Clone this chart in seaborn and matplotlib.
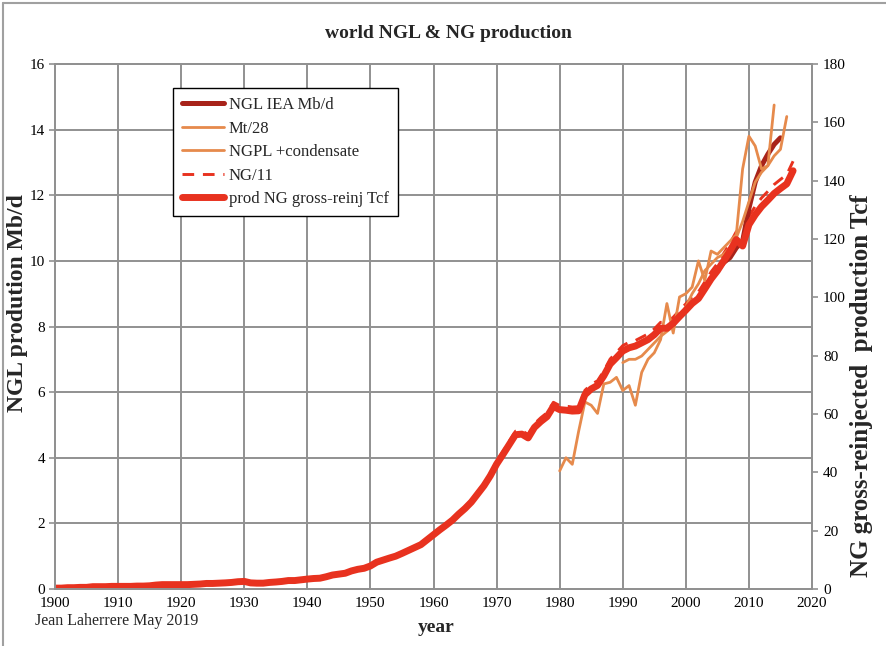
import numpy as np
import pandas as pd
import matplotlib
matplotlib.use("Agg")
import matplotlib.pyplot as plt
from matplotlib.lines import Line2D
import seaborn as sns

# ---------------- data ----------------
ng_years = list(range(1900, 2018))
# world natural gas production, gross minus reinjected (Tcf)
ng_tcf = [0.3, 0.3, 0.45, 0.45, 0.56, 0.56, 0.8, 0.8, 0.8, 0.9,
          0.9, 0.9, 0.9, 1.0, 1.0, 1.1, 1.35, 1.5, 1.5, 1.5,
          1.5, 1.5, 1.6, 1.7, 1.9, 1.9, 2.0, 2.1, 2.25, 2.5,
          2.6, 2.1, 2.0, 2.0, 2.25, 2.4, 2.6, 2.9, 2.9, 3.15,
          3.4, 3.6, 3.7, 4.2, 4.8, 5.1, 5.4, 6.2, 6.75, 7.1,
          7.9, 9.2, 9.9, 10.6, 11.25, 12.2, 13.2, 14.2, 15.2, 16.9,
          18.6, 20.3, 21.9, 23.6, 25.7, 27.6, 29.8, 32.6, 35.4, 38.8,
          42.8, 46.1, 49.5, 52.9, 53.1, 51.8, 55.4, 57.4, 59.1, 62.6,
          61.5, 61.3, 61.0, 61.1, 66.6, 68.6, 69.8, 73.1, 77.1, 79.3,
          81.6, 82.7, 83.3, 84.4, 85.5, 87.2, 89.4, 89.4, 91.1, 93.4,
          95.6, 97.9, 99.6, 102.9, 106.3, 109.1, 112.5, 115.9, 119.8, 117.6,
          124.9, 128.3, 131.1, 133.3, 135.6, 137.3, 138.9, 143.4]

iea_years = list(range(2005, 2016))
ngl_iea = [9.7, 9.95, 10.1, 10.4, 10.6, 11.6, 12.4, 12.9, 13.25, 13.55, 13.75]

mt_years = list(range(1980, 2015))
ngl_mt28 = [3.6, 4.0, 3.8, 4.8, 5.7, 5.6, 5.35, 6.25, 6.3, 6.45,
            6.05, 6.2, 5.6, 6.6, 7.0, 7.2, 7.6, 8.7, 7.8, 8.9,
            9.0, 9.2, 10.0, 9.4, 10.3, 10.2, 10.4, 10.6, 10.8, 12.8,
            13.8, 13.5, 12.8, 12.9, 14.75]

ngpl_years = list(range(1990, 2017))
ngpl_cond = [6.9, 7.0, 7.0, 7.1, 7.3, 7.5, 7.7, 7.85, 8.0, 8.3,
             8.6, 9.0, 9.3, 9.7, 9.9, 10.1, 10.2, 10.4, 10.7, 11.2,
             11.8, 12.4, 12.7, 12.9, 13.2, 13.4, 14.4]

x_ticks = list(range(1900, 2021, 10))
left_ticks = list(range(0, 17, 2))
right_ticks = list(range(0, 181, 20))

# ---------------- style ----------------
sns.set_theme(style="white")
plt.rcParams["font.family"] = ["Liberation Serif", "DejaVu Serif"]

RED = "#e8321f"
DARK_RED = "#a8231a"
ORANGE = "#e68a4c"
GRID = "#919191"

LW_NG = 5.0
LW_IEA = 3.6
LW_ORANGE = 2.0
LW_DASH = 2.1
DASH = (0, (4, 3))

fig = plt.figure(figsize=(8.86, 6.46), dpi=100)
ax = fig.add_axes([55 / 886, 1 - 589 / 646, (812 - 55) / 886, (589 - 64) / 646])
ax2 = ax.twinx()

ng = pd.DataFrame({"year": ng_years, "tcf": ng_tcf})
ng["ng11"] = ng["tcf"] / 11
iea = pd.DataFrame({"year": iea_years, "v": ngl_iea})
mt = pd.DataFrame({"year": mt_years, "v": ngl_mt28})
ngpl = pd.DataFrame({"year": ngpl_years, "v": ngpl_cond})

# left axis series (Mb/d)
sns.lineplot(data=ng, x="year", y="ng11", ax=ax, color=RED, linewidth=LW_DASH,
             linestyle=DASH, legend=False, zorder=3)
sns.lineplot(data=iea, x="year", y="v", ax=ax, color=DARK_RED, linewidth=LW_IEA,
             legend=False, zorder=4)
sns.lineplot(data=ngpl, x="year", y="v", ax=ax, color=ORANGE, linewidth=LW_ORANGE,
             legend=False, zorder=5)
sns.lineplot(data=mt, x="year", y="v", ax=ax, color=ORANGE, linewidth=LW_ORANGE,
             legend=False, zorder=5)

# right axis series (Tcf)
sns.lineplot(data=ng, x="year", y="tcf", ax=ax2, color=RED, linewidth=LW_NG,
             legend=False, solid_capstyle="round")

ax.set_xlim(1900, 2020)
ax.set_ylim(0, 16)
ax2.set_ylim(0, 180)
ax.set_xticks(x_ticks)
ax.set_yticks(left_ticks)
ax2.set_yticks(right_ticks)

ax.grid(True, color=GRID, linewidth=1.4)
ax.set_axisbelow(True)
ax2.grid(False)

for a in (ax, ax2):
    for s in a.spines.values():
        s.set_color(GRID)
        s.set_linewidth(1.4)
ax.tick_params(axis="both", labelsize=11, colors=GRID, labelcolor="black",
               direction="out", length=4, width=1.2, pad=3)
ax.tick_params(axis="x", pad=2)
ax2.tick_params(axis="y", labelsize=11, colors=GRID, labelcolor="black",
                direction="out", length=4, width=1.2, pad=4)

ax.set_ylabel("NGL prodution Mb/d", fontsize=17, fontweight="bold")
ax.yaxis.label.set(va="center", ha="center")
ax.yaxis.set_label_coords((18 - 55) / 757, (589 - 303) / 525)

ax2.set_ylabel("NG gross-reinjected  production Tcf", fontsize=18,
               fontweight="bold")
ax2.yaxis.label.set(va="center", ha="center")
ax2.yaxis.set_label_coords((862 - 55) / 757, (589 - 386) / 525)

ax.set_xlabel("year", fontsize=14, fontweight="bold")
ax.xaxis.label.set(va="center", ha="center")
ax.xaxis.set_label_coords((436 - 55) / 757, (589 - 628) / 525)

fig.text(448 / 886, 1 - 34 / 646, "world NGL & NG production",
         ha="center", va="center", fontsize=14, fontweight="bold")
fig.text(35 / 886, 1 - 621 / 646, "Jean Laherrere May 2019",
         ha="left", va="center", fontsize=11.5)

# legend
handles = [
    Line2D([], [], color=DARK_RED, linewidth=LW_IEA),
    Line2D([], [], color=ORANGE, linewidth=LW_ORANGE),
    Line2D([], [], color=ORANGE, linewidth=LW_ORANGE),
    Line2D([], [], color=RED, linewidth=LW_DASH, linestyle=DASH),
    Line2D([], [], color=RED, linewidth=LW_NG),
]
labels = ["NGL IEA Mb/d", "Mt/28", "NGPL +condensate", "NG/11",
          "prod NG gross-reinj Tcf"]
leg = ax2.legend(handles, labels, loc="upper left",
                 bbox_to_anchor=((173 - 55) / 757, (589 - 88) / 525),
                 fontsize=12, frameon=True, fancybox=False, framealpha=1,
                 edgecolor="black", handlelength=2.5, handletextpad=0.3,
                 labelspacing=0.45, borderpad=0.55, borderaxespad=0)
leg.get_frame().set_linewidth(1.0)

# outer frame of the picture
fig.add_artist(Line2D([3 / 886, 3 / 886], [0, 1 - 3 / 646],
                      transform=fig.transFigure, color="#a0a0a0", linewidth=1.5))
fig.add_artist(Line2D([3 / 886, 1], [1 - 3 / 646, 1 - 3 / 646],
                      transform=fig.transFigure, color="#a0a0a0", linewidth=1.5))

fig.savefig("out.png", dpi=100)
